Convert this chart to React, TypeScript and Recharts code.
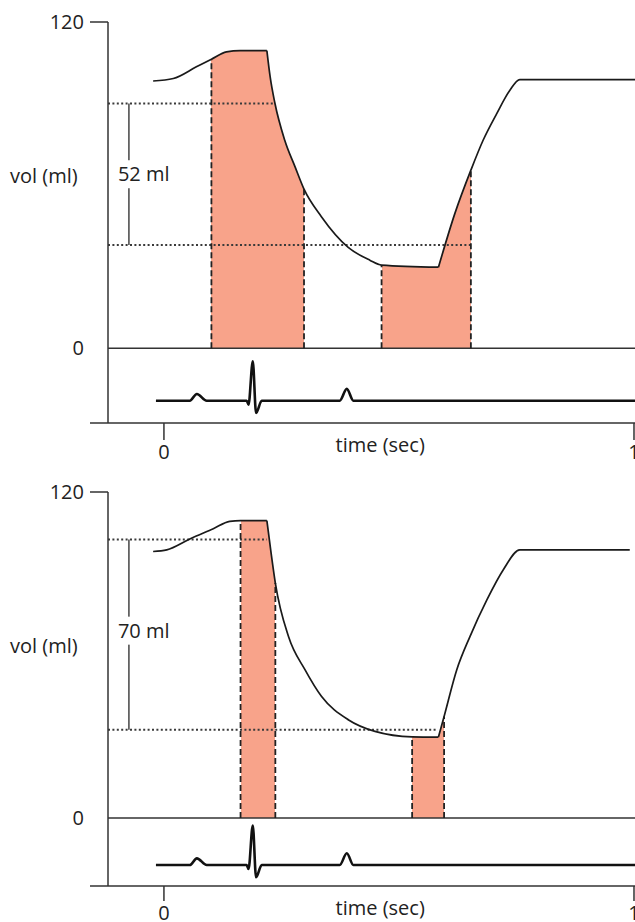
import { Area, ComposedChart, Line, ReferenceLine, XAxis, YAxis } from 'recharts';

// time in seconds, left-ventricle volume in ml
const topTime = [-0.023, 0.02, 0.069, 0.101, 0.133, 0.162, 0.219, 0.226, 0.236, 0.257, 0.279, 0.298, 0.335, 0.392, 0.438, 0.463, 0.584, 0.619, 0.653, 0.679, 0.708, 0.736, 0.757, 1.01];
const topVol = [98.3, 99.2, 103.5, 106.3, 109.0, 109.5, 109.5, 99.8, 90.2, 76.5, 66.7, 58.5, 48.4, 37.1, 32.4, 30.6, 29.8, 49.6, 65.5, 76.5, 86.3, 94.9, 98.8, 98.8];
const topCorners = [6, 16];
const topShades: [number, number][] = [[0.101, 0.298], [0.463, 0.653]];
const topLevels = [90, 38];
const topLevelEnds = [0.236, 0.653];
const topStroke = '52 ml';

const bottomTime = [-0.023, 0.006, 0.055, 0.105, 0.14, 0.163, 0.219, 0.228, 0.237, 0.265, 0.3, 0.335, 0.392, 0.449, 0.528, 0.584, 0.596, 0.623, 0.651, 0.687, 0.722, 0.757, 0.991];
const bottomVol = [98.1, 98.7, 102.7, 106.5, 109.2, 109.5, 109.5, 97.5, 86.5, 66.8, 54.6, 44.8, 36.2, 31.9, 29.9, 29.8, 37.4, 54.6, 66.8, 80.3, 91.4, 98.7, 98.7];
const bottomCorners = [6, 15];
const bottomShades: [number, number][] = [[0.163, 0.237], [0.528, 0.596]];
const bottomLevels = [102.5, 32.5];
const bottomLevelEnds = [0.219, 0.58];
const bottomStroke = '70 ml';

// ecg trace, R wave = 1
const ecgTime = [-0.017, 0.055, 0.07, 0.091, 0.176, 0.18, 0.189, 0.196, 0.208, 0.374, 0.389, 0.403, 1.05];
const ecgMv = [0, 0, 0.17, 0, 0, -0.1, 1, -0.31, 0, 0, 0.3, 0, 0];

const timeTicks = [0, 1];
const xDomain: [number, number] = [-0.119, 1.1];
const bracketT = -0.0745;
const timeLabelT = 0.46;
const volLabelAt = 63.5;

const FONT = "'Open Sans', sans-serif";
const AXIS = '#333';
const SHADE = '#f8a38a';
const CURVE = '#1a1a1a';

const ecgRows = ecgTime.map((t, i) => ({ t, mv: ecgMv[i] }));

type PanelProps = {
  id: string;
  time: number[];
  vol: number[];
  corners: number[];
  shades: [number, number][];
  levels: number[];
  levelEnds: number[];
  stroke: string;
  yMin: number;
  ecgDomain: [number, number];
  top: number;
  height: number;
  marginTop: number;
  axisHeight: number;
  tickSize: number;
  bracketDy: number;
};

const VolTick = (props: any) => {
  const { x, y, payload } = props;
  const v = payload.value;
  return (
    <g>
      {v !== 0 && <line x1={x - 18} x2={x} y1={y} y2={y} stroke={AXIS} strokeWidth={1.5} />}
      {v >= 0 && (
        <text x={x - 24} y={y} dy="0.36em" textAnchor="end" fontSize={20} fontFamily={FONT} fill="#222">
          {v}
        </text>
      )}
    </g>
  );
};

function Panel(p: PanelProps) {
  const bounds = [0, ...p.corners, p.time.length - 1];
  const segments = bounds.slice(1).map((end, s) => ({ start: bounds[s], end }));
  const rows = p.time.map((t, i) => {
    const row: Record<string, number | null> = { t };
    segments.forEach((seg, s) => {
      row[`v${s}`] = i >= seg.start && i <= seg.end ? p.vol[i] : null;
    });
    return row;
  });
  const volAt = (t: number) => p.vol[p.time.indexOf(t)];

  const volLabel = (lp: any) => {
    const vb = lp.viewBox;
    const y = vb.y + (vb.height * (120 - volLabelAt)) / (120 - p.yMin);
    return (
      <text x={vb.x + 10} y={y} dy="0.36em" fontSize={20} fontFamily={FONT} fill="#222">
        vol (ml)
      </text>
    );
  };

  const timeLabel = (lp: any) => {
    const vb = lp.viewBox;
    const x = vb.x + (vb.width * (timeLabelT - xDomain[0])) / (xDomain[1] - xDomain[0]);
    return (
      <text x={x} y={vb.y + 22} dy="0.36em" textAnchor="middle" fontSize={20} fontFamily={FONT} fill="#222">
        time (sec)
      </text>
    );
  };

  const bracketLabel = (lp: any) => {
    const vb = lp.viewBox;
    const cy = vb.y + vb.height / 2 + p.bracketDy;
    return (
      <g>
        <rect x={vb.x - 3} y={cy - 14} width={6} height={28} fill="#fff" />
        <text x={vb.x - 11} y={cy} dy="0.36em" fontSize={20} fontFamily={FONT} fill="#222">
          {p.stroke}
        </text>
      </g>
    );
  };

  return (
    <div style={{ position: 'absolute', left: 0, top: p.top }}>
      <ComposedChart
        width={690}
        height={p.height}
        data={rows}
        margin={{ top: p.marginTop, right: 9, bottom: 0, left: 0 }}
      >
        <defs>
          {segments.map((seg, s) => {
            const t0 = p.time[seg.start];
            const t1 = p.time[seg.end];
            const stops: { o: number; on: boolean }[] = [];
            p.shades.forEach(([lo, hi]) => {
              const a = Math.max(lo, t0);
              const b = Math.min(hi, t1);
              if (b <= a) return;
              const oa = (a - t0) / (t1 - t0);
              const ob = (b - t0) / (t1 - t0);
              stops.push({ o: oa, on: false }, { o: oa, on: true }, { o: ob, on: true }, { o: ob, on: false });
            });
            return (
              <linearGradient key={s} id={`${p.id}-g${s}`} x1="0" x2="1" y1="0" y2="0">
                <stop offset="0" stopColor={SHADE} stopOpacity={0} />
                {stops.map((st, k) => (
                  <stop key={k} offset={st.o} stopColor={SHADE} stopOpacity={st.on ? 1 : 0} />
                ))}
                <stop offset="1" stopColor={SHADE} stopOpacity={0} />
              </linearGradient>
            );
          })}
        </defs>
        <XAxis
          dataKey="t"
          type="number"
          domain={xDomain}
          ticks={timeTicks}
          interval={0}
          height={p.axisHeight}
          tickSize={p.tickSize}
          tickMargin={5}
          axisLine={{ stroke: AXIS, strokeWidth: 1.5 }}
          tickLine={{ stroke: AXIS, strokeWidth: 1.5 }}
          tick={{ fill: '#222', fontSize: 20, fontFamily: FONT }}
          allowDataOverflow
          label={timeLabel}
        />
        <YAxis
          type="number"
          domain={[p.yMin, 120]}
          ticks={[p.yMin, 0, 120]}
          width={108}
          tickSize={0}
          tickMargin={0}
          tickLine={false}
          axisLine={{ stroke: AXIS, strokeWidth: 1.5 }}
          tick={VolTick}
          interval={0}
          allowDataOverflow
          label={volLabel}
        />
        <YAxis yAxisId="ecg" hide type="number" domain={p.ecgDomain} allowDataOverflow />
        {segments.map((_, s) => (
          <Area
            key={`a${s}`}
            type="monotone"
            dataKey={`v${s}`}
            stroke="none"
            fill={`url(#${p.id}-g${s})`}
            fillOpacity={1}
            baseValue={0}
            shapeRendering="crispEdges"
            dot={false}
            activeDot={false}
            isAnimationActive={false}
          />
        ))}
        <ReferenceLine y={0} stroke={AXIS} strokeWidth={1.5} />
        {p.levels.map((lvl, k) => (
          <ReferenceLine
            key={`lvl${k}`}
            ifOverflow="visible"
            segment={[
              { x: xDomain[0], y: lvl },
              { x: p.levelEnds[k], y: lvl },
            ]}
            stroke="#3a3a3a"
            strokeWidth={2}
            strokeDasharray="2 2.4"
          />
        ))}
        {p.shades.flat().map((t, k) => (
          <ReferenceLine
            key={`edge${k}`}
            ifOverflow="visible"
            segment={[
              { x: t, y: 0 },
              { x: t, y: volAt(t) },
            ]}
            stroke="#222"
            strokeWidth={1.8}
            strokeDasharray="6 3"
          />
        ))}
        <ReferenceLine
          ifOverflow="visible"
          segment={[
            { x: bracketT, y: p.levels[1] },
            { x: bracketT, y: p.levels[0] },
          ]}
          stroke="#444"
          strokeWidth={1.5}
          label={bracketLabel}
        />
        {segments.map((_, s) => (
          <Line
            key={`l${s}`}
            type="monotone"
            dataKey={`v${s}`}
            stroke={CURVE}
            strokeWidth={1.7}
            dot={false}
            activeDot={false}
            isAnimationActive={false}
          />
        ))}
        <Line
          yAxisId="ecg"
          data={ecgRows}
          dataKey="mv"
          type="monotone"
          stroke="#111"
          strokeWidth={2.6}
          dot={false}
          activeDot={false}
          isAnimationActive={false}
        />
      </ComposedChart>
    </div>
  );
}

export default function App() {
  return (
    <div
      style={{
        position: 'fixed',
        left: 0,
        top: 0,
        width: 635,
        height: 922,
        overflow: 'hidden',
        background: '#fff',
        fontFamily: FONT,
      }}
    >
      <Panel
        id="top"
        time={topTime}
        vol={topVol}
        corners={topCorners}
        shades={topShades}
        levels={topLevels}
        levelEnds={topLevelEnds}
        stroke={topStroke}
        yMin={-27.5}
        ecgDomain={[-0.565, 9.6]}
        top={0}
        height={463}
        marginTop={22}
        axisHeight={40}
        tickSize={17}
        bracketDy={0}
      />
      <Panel
        id="bottom"
        time={bottomTime}
        vol={bottomVol}
        corners={bottomCorners}
        shades={bottomShades}
        levels={bottomLevels}
        levelEnds={bottomLevelEnds}
        stroke={bottomStroke}
        yMin={-25}
        ecgDomain={[-0.53, 9.44]}
        top={463}
        height={459}
        marginTop={29}
        axisHeight={36}
        tickSize={15}
        bracketDy={-4}
      />
    </div>
  );
}
